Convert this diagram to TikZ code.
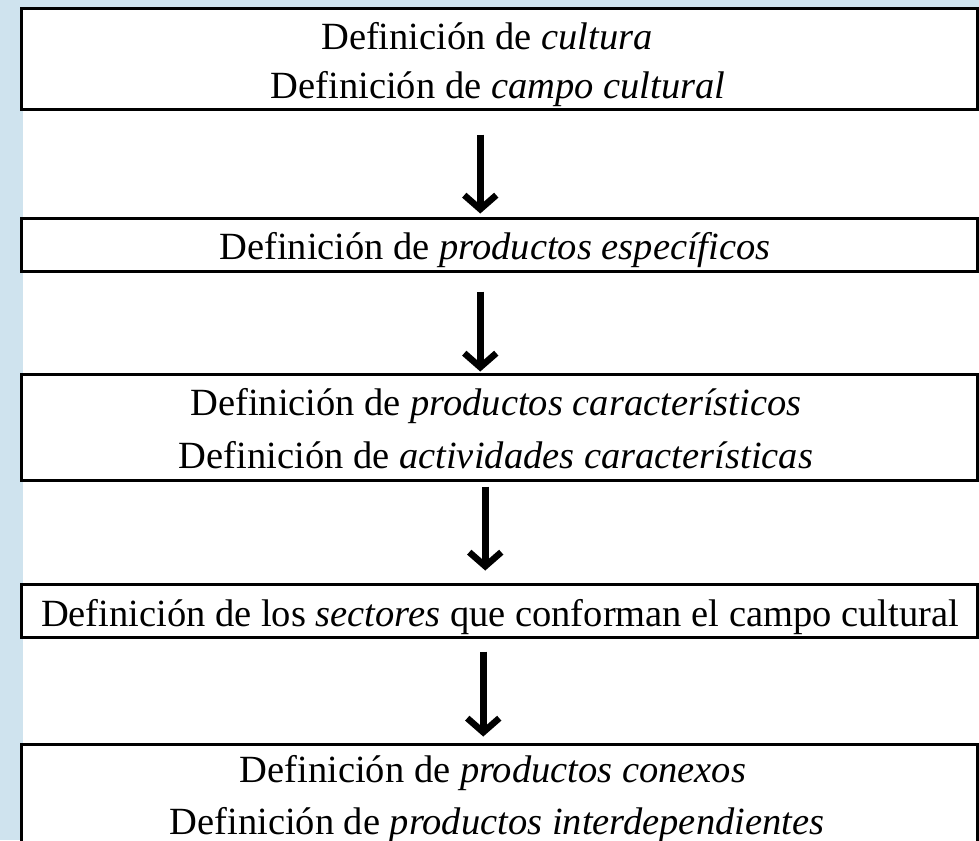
\documentclass[tikz,border=0pt]{standalone}
\usepackage{fontspec}
\setmainfont{Liberation Serif}
\usetikzlibrary{arrows.meta}
\definecolor{bgblue}{RGB}{207,227,238}
\begin{document}
\begin{tikzpicture}[x=1pt,y=-1pt,
  box/.style={draw=black, line width=3pt, fill=white, rectangle, inner sep=0pt, minimum width=955.5pt},
  lbl/.style={anchor=base, inner sep=0pt, font=\fontsize{38.5}{46}\selectfont},
  arr/.style={line width=6.5pt, -{Straight Barb[length=14pt,width=32pt]}}]
\useasboundingbox (0,0) rectangle (979,840);
\clip (0,0) rectangle (979,840);
\fill[bgblue] (0,0) rectangle (979,840);
\fill[white] (23,7) rectangle (979,840);
% boxes
\node[box, minimum height=101.5pt] (b1) at (499.25,59.25) {};
\node[box, minimum height=53pt] (b2) at (499.25,244.5) {};
\node[box, minimum height=105.5pt] (b3) at (499.25,427.25) {};
\node[box, minimum height=53.5pt] (b4) at (499.25,610.75) {};
\node[box, minimum height=120pt] (b5) at (499.25,804) {};
% texts
\node[lbl] (t1a) at (487,50) {Definición de \textit{cultura}};
\node[lbl] (t1b) at (498,99) {Definición de \textit{campo cultural}};
\node[lbl] (t2) at (495,259) {Definición de \textit{productos específicos}};
\node[lbl] (t3a) at (496,415) {Definición de \textit{productos característicos}};
\node[lbl] (t3b) at (496,468) {Definición de \textit{actividades características}};
\node[lbl] (t4) at (500,626) {Definición de los \textit{sectores} que conforman el campo cultural};
\node[lbl] (t5a) at (493,782) {Definición de \textit{productos conexos}};
\node[lbl] (t5b) at (497,834) {Definición de \textit{productos interdependientes}};
% arrows
\draw[arr] ([xshift=-19pt,yshift=-23pt]b1.south) -- ([xshift=-19pt,yshift=3pt]b2.north);
\draw[arr] ([xshift=-19pt,yshift=-19pt]b2.south) -- ([xshift=-19pt,yshift=1.5pt]b3.north);
\draw[arr] ([xshift=-14pt,yshift=-5pt]b3.south) -- ([xshift=-14pt,yshift=12pt]b4.north);
\draw[arr] ([xshift=-16pt,yshift=-12.5pt]b4.south) -- ([xshift=-16pt,yshift=6pt]b5.north);
\end{tikzpicture}
\end{document}
